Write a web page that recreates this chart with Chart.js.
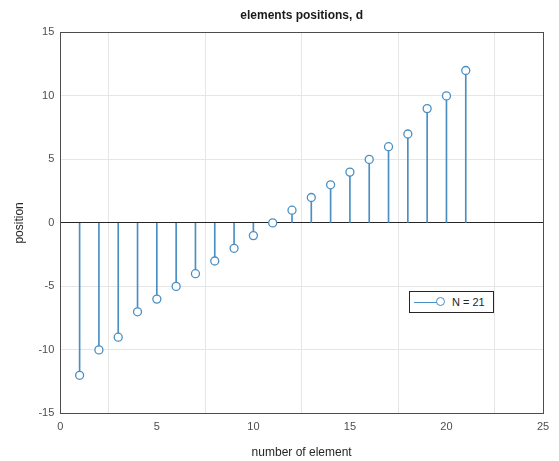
<!DOCTYPE html>
<html>
<head>
<meta charset="utf-8">
<script src="https://cdn.jsdelivr.net/npm/chart.js@4"></script>
<style>
  html, body { margin: 0; padding: 0; background: #fff; }
  #wrap { position: relative; width: 559px; height: 461px; }
  #legend {
    position: absolute; left: 409px; top: 291px; width: 83px; height: 20px;
    border: 1px solid #262626; background: #fff;
    font: 11px "Liberation Sans", Arial, sans-serif; color: #262626;
    display: flex; align-items: center;
  }
  #legend .sym { position: relative; width: 38px; height: 20px; margin-left: 4px; }
  #legend .sym .ln { position: absolute; left: 0; top: 10px; width: 26px; height: 1px; background: #4a8fc2; }
  #legend .sym .mk { position: absolute; left: 22px; top: 5px; width: 7px; height: 7px; border: 1.5px solid #4a8fc2; border-radius: 50%; background: #fff; }
</style>
</head>
<body>
<div id="wrap">
  <canvas id="myChart" width="559" height="461"></canvas>
  <div id="legend"><div class="sym"><div class="ln"></div><div class="mk"></div></div><span>N = 21</span></div>
</div>
<script>
const elementIndex = [1, 2, 3, 4, 5, 6, 7, 8, 9, 10, 11, 12, 13, 14, 15, 16, 17, 18, 19, 20, 21];
const positions = [-12, -10, -9, -7, -6, -5, -4, -3, -2, -1, 0, 1, 2, 3, 4, 5, 6, 7, 9, 10, 12];
const xTicks = [0, 5, 10, 15, 20, 25];
const yTicks = [-15, -10, -5, 0, 5, 10, 15];

const stemColor = "#4a8fc2";
const points = elementIndex.map((x, i) => ({ x: x, y: positions[i] }));
const font = { family: "'Liberation Sans', Arial, sans-serif", size: 11 };

const ctx = document.getElementById("myChart");

new Chart(ctx, {
  type: "bar",
  data: {
    datasets: [
      {
        type: "line",
        label: "N = 21",
        data: points,
        showLine: false,
        pointStyle: "circle",
        pointRadius: 4,
        pointBorderWidth: 1.3,
        pointBorderColor: stemColor,
        pointBackgroundColor: "#fff",
        order: 0,
      },
      {
        label: "stems",
        data: points,
        backgroundColor: stemColor,
        borderWidth: 0,
        barThickness: 1,
        order: 1,
      },
    ],
  },
  options: {
    responsive: false,
    animation: false,
    layout: { padding: { top: 6, right: 16, left: 12, bottom: 1 } },
    scales: {
      x: {
        type: "linear",
        min: 0,
        max: 25,
        offset: false,
        afterBuildTicks: (s) => { s.ticks = xTicks.map(v => ({ value: v })); },
        ticks: { color: "#4d4d4d", font: font, padding: 7, maxRotation: 0 },
        grid: { color: "#e6e6e6", drawTicks: false },
        border: { display: true, color: "#4d4d4d", width: 1 },
        title: { display: true, text: "number of element", color: "#262626", font: { family: font.family, size: 12 }, padding: { top: 5, bottom: 0 } },
      },
      y: {
        min: -15,
        max: 15,
        afterBuildTicks: (s) => { s.ticks = yTicks.map(v => ({ value: v })); },
        ticks: { color: "#4d4d4d", font: font, padding: 6 },
        grid: {
          color: (c) => (c.tick && c.tick.value === 0 ? "#262626" : "#e6e6e6"),
          drawTicks: false,
        },
        border: { display: true, color: "#4d4d4d", width: 1 },
        title: { display: true, text: "position", color: "#262626", font: { family: font.family, size: 12 }, padding: { top: 0, bottom: 6 } },
      },
      xTop: {
        type: "linear",
        position: "top",
        min: 0,
        max: 25,
        ticks: { display: false },
        grid: { display: false, drawTicks: false },
        border: { display: true, color: "#4d4d4d", width: 1 },
      },
      yRight: {
        position: "right",
        min: -15,
        max: 15,
        ticks: { display: false },
        grid: { display: false, drawTicks: false },
        border: { display: true, color: "#4d4d4d", width: 1 },
      },
    },
    plugins: {
      legend: { display: false },
      tooltip: { enabled: false },
      title: {
        display: true,
        text: "elements positions, d",
        color: "#1a1a1a",
        fullSize: false,
        font: { family: font.family, size: 12, weight: "bold" },
        padding: { top: 2, bottom: 10 },
      },
    },
  },
});
</script>
</body>
</html>
